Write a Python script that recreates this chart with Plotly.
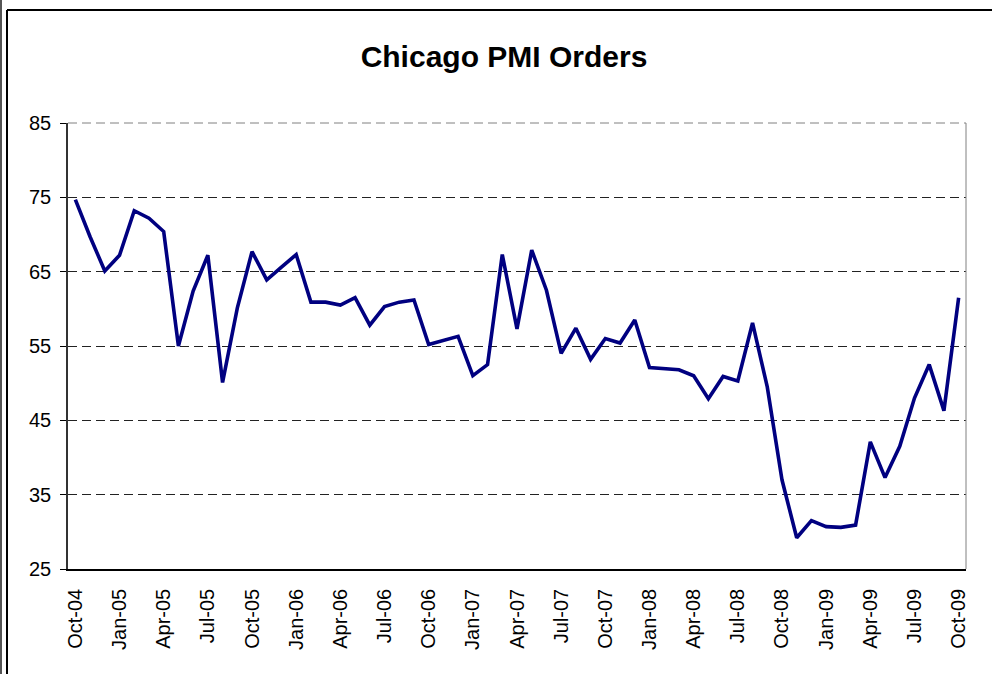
import plotly.graph_objects as go

months = ["Oct-04", "Nov-04", "Dec-04", "Jan-05", "Feb-05", "Mar-05", "Apr-05", "May-05", "Jun-05",
          "Jul-05", "Aug-05", "Sep-05", "Oct-05", "Nov-05", "Dec-05", "Jan-06", "Feb-06", "Mar-06",
          "Apr-06", "May-06", "Jun-06", "Jul-06", "Aug-06", "Sep-06", "Oct-06", "Nov-06", "Dec-06",
          "Jan-07", "Feb-07", "Mar-07", "Apr-07", "May-07", "Jun-07", "Jul-07", "Aug-07", "Sep-07",
          "Oct-07", "Nov-07", "Dec-07", "Jan-08", "Feb-08", "Mar-08", "Apr-08", "May-08", "Jun-08",
          "Jul-08", "Aug-08", "Sep-08", "Oct-08", "Nov-08", "Dec-08", "Jan-09", "Feb-09", "Mar-09",
          "Apr-09", "May-09", "Jun-09", "Jul-09", "Aug-09", "Sep-09", "Oct-09"]

orders = [74.7, 69.7, 65.1, 67.2, 73.2, 72.2, 70.4, 55.0, 62.4,
          67.2, 50.1, 60.1, 67.7, 63.9, 65.6, 67.3, 60.9, 60.9,
          60.5, 61.5, 57.8, 60.3, 60.9, 61.2, 55.2, 55.8, 56.3,
          51.0, 52.5, 67.3, 57.3, 67.9, 62.5, 54.0, 57.4, 53.2,
          56.0, 55.4, 58.5, 52.1, 52.0, 51.8, 51.0, 47.9, 50.9,
          50.3, 58.1, 49.5, 37.0, 29.2, 31.5, 30.7, 30.6, 30.9,
          42.1, 37.3, 41.5, 48.0, 52.5, 46.3, 61.5]

tick_labels = months[::3]
y_ticks = [25, 35, 45, 55, 65, 75, 85]

W, H = 992, 674
L, R, T, B = 68, 966, 123, 569

FONT = "Liberation Sans, Arial, sans-serif"

fig = go.Figure()
fig.add_trace(go.Scatter(
    x=list(range(len(months))), y=orders, mode="lines",
    line=dict(color="#000080", width=3.6), hoverinfo="skip", showlegend=False))


def px_x(p):
    return (p - L) / (R - L)


def px_y(q):
    return (B - q) / (B - T)


shapes = [
    # outer chart frame
    dict(type="line", xref="paper", yref="paper", x0=px_x(1), x1=px_x(1), y0=px_y(0), y1=px_y(H),
         line=dict(color="#555555", width=2)),
    dict(type="line", xref="paper", yref="paper", x0=px_x(7), x1=px_x(7), y0=px_y(10), y1=px_y(H),
         line=dict(color="#000000", width=2)),
    dict(type="line", xref="paper", yref="paper", x0=px_x(7), x1=px_x(W), y0=px_y(10), y1=px_y(10),
         line=dict(color="#000000", width=2)),
    # plot area right border
    dict(type="line", xref="paper", yref="paper", x0=1, x1=1, y0=0, y1=1,
         line=dict(color="#808080", width=1)),
    # top gridline of the plot area
    dict(type="line", xref="paper", yref="paper", x0=0, x1=1, y0=1, y1=1,
         line=dict(color="#808080", width=1, dash="9px,5px"), layer="below"),
]

fig.update_layout(
    width=W, height=H,
    margin=dict(l=L, r=W - R, t=T, b=H - B, pad=0),
    paper_bgcolor="white", plot_bgcolor="white",
    title=dict(text="<b>Chicago PMI Orders</b>", x=504 / W, xanchor="center",
               y=1 - 56 / H, yanchor="middle", yref="container",
               font=dict(family=FONT, size=30, color="black")),
    shapes=shapes,
    xaxis=dict(
        range=[-0.5, len(months) - 0.5],
        tickmode="array", tickvals=list(range(0, len(months), 3)), ticktext=tick_labels,
        tickangle=-90, ticks="", showgrid=False, zeroline=False,
        showline=True, linecolor="black", linewidth=1.5,
        tickfont=dict(family=FONT, size=20, color="black"),
        ticklabelstandoff=10,
    ),
    yaxis=dict(
        range=[25, 85], tickmode="array", tickvals=y_ticks,
        ticks="outside", ticklen=6, tickcolor="black", tickwidth=1,
        showline=True, linecolor="#333333", linewidth=1.5, zeroline=False,
        showgrid=True, gridcolor="#222222", gridwidth=1, griddash="9px,5px",
        tickfont=dict(family=FONT, size=20, color="black"),
        ticklabelstandoff=5,
    ),
)

fig.write_html("out.html", config={"displayModeBar": False},
               post_script="document.body.style.margin='0';")
